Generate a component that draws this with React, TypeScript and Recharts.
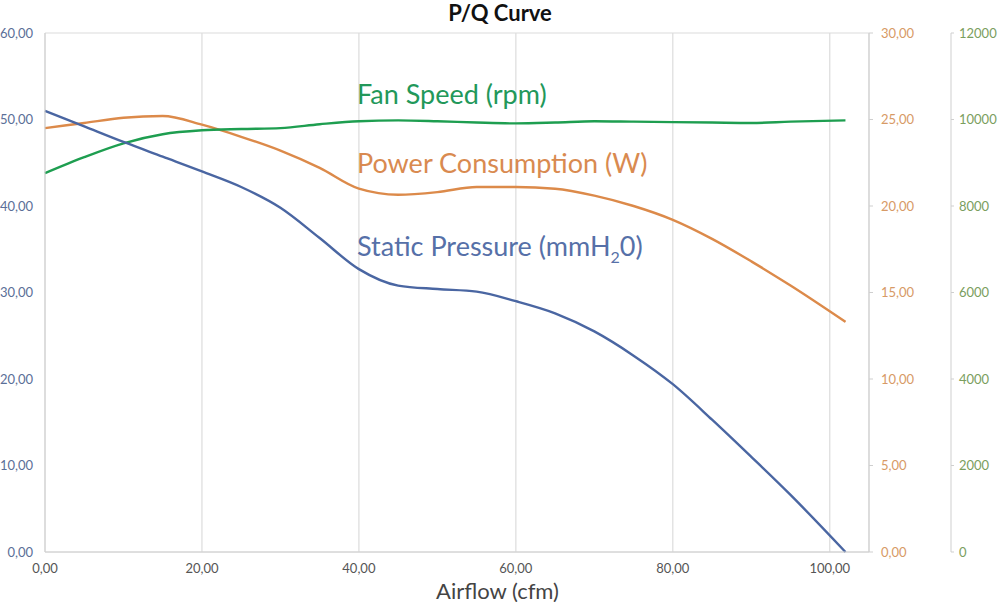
import {
  ComposedChart,
  Line,
  XAxis,
  YAxis,
  CartesianGrid,
} from 'recharts';

// airflow (cfm) sample points
const airflow = [0, 5, 10, 15, 20, 25, 30, 35, 40, 45, 50, 55, 60, 65, 70, 75, 80, 85, 90, 95, 102];
// static pressure (mmH2O), left axis
const pressure = [51.0, 49.2, 47.4, 45.7, 44.0, 42.2, 39.8, 36.3, 32.7, 30.8, 30.4, 30.1, 29.0, 27.6, 25.5, 22.7, 19.4, 15.3, 11.0, 6.6, 0];
// power consumption (W), first right axis
const power = [24.5, 24.8, 25.1, 25.2, 24.7, 24.0, 23.2, 22.2, 21.0, 20.65, 20.8, 21.1, 21.1, 21.0, 20.6, 20.0, 19.2, 18.1, 16.8, 15.4, 13.3];
// fan speed (rpm), second right axis
const fanSpeed = [8760, 9130, 9450, 9660, 9750, 9780, 9800, 9890, 9960, 9980, 9960, 9930, 9910, 9930, 9960, 9950, 9940, 9930, 9920, 9950, 9980];

const xTicks = [0, 20, 40, 60, 80, 100];
const pressureTicks = [0, 10, 20, 30, 40, 50, 60];
const powerTicks = [0, 5, 10, 15, 20, 25, 30];
const speedTicks = [0, 2000, 4000, 6000, 8000, 10000, 12000];

const data = airflow.map((x, i) => ({
  airflow: x,
  pressure: pressure[i],
  power: power[i],
  fanSpeed: fanSpeed[i],
}));

const comma = (v: number) => v.toFixed(2).replace('.', ',');

const BLUE = '#4a66a2';
const ORANGE = '#dc8a4a';
const GREEN = '#1e9e50';
const FONT = 'Lato, "Open Sans", sans-serif';

export default function App() {
  return (
    <div style={{ position: 'absolute', left: 0, top: 0, width: 1000, height: 602, fontFamily: FONT, background: '#fff' }}>
      <div style={{ position: 'absolute', top: 0, width: 1000, textAlign: 'center', fontSize: 22, fontWeight: 700, color: '#111', lineHeight: '26px' }}>
        P/Q Curve
      </div>
      <ComposedChart
        width={1000}
        height={602}
        data={data}
        margin={{ top: 33, right: 1, bottom: 20, left: 0 }}
      >
        <CartesianGrid stroke="#dcdcdc" strokeWidth={1.2} />
        <XAxis
          dataKey="airflow"
          type="number"
          domain={[0, 105]}
          ticks={xTicks}
          tickFormatter={comma}
          height={30}
          axisLine={{ stroke: '#d0d0d0' }}
          tickLine={false}
          tick={{ fill: '#555', fontSize: 13, fontFamily: FONT }}
          tickMargin={6}
        />
        <YAxis
          yAxisId="left"
          domain={[0, 60]}
          ticks={pressureTicks}
          tickFormatter={comma}
          width={45}
          axisLine={{ stroke: '#d0d0d0' }}
          tickLine={false}
          tick={{ fill: '#5b6f98', fontSize: 13, fontFamily: FONT }}
          tickMargin={6}
        />
        <YAxis
          yAxisId="right1"
          orientation="right"
          domain={[0, 30]}
          ticks={powerTicks}
          tickFormatter={comma}
          width={82}
          axisLine={{ stroke: '#cfcfcf' }}
          tickLine={{ stroke: '#cfcfcf' }}
          tickSize={4}
          tick={{ fill: '#d79a66', fontSize: 13, fontFamily: FONT }}
          tickMargin={8}
        />
        <YAxis
          yAxisId="right2"
          orientation="right"
          domain={[0, 12000]}
          ticks={speedTicks}
          width={48}
          axisLine={{ stroke: '#cfcfcf' }}
          tickLine={{ stroke: '#cfcfcf' }}
          tickSize={3}
          tick={{ fill: '#7a9e5e', fontSize: 13, fontFamily: FONT }}
          tickMargin={5}
        />
        <Line yAxisId="right1" type="monotone" dataKey="power" stroke={ORANGE} strokeWidth={2.4} dot={false} isAnimationActive={false} />
        <Line yAxisId="right2" type="monotone" dataKey="fanSpeed" stroke={GREEN} strokeWidth={2.4} dot={false} isAnimationActive={false} />
        <Line yAxisId="left" type="monotone" dataKey="pressure" stroke={BLUE} strokeWidth={2.4} dot={false} isAnimationActive={false} />
      </ComposedChart>
      <div style={{ position: 'absolute', left: 357, top: 78, fontSize: 27, color: '#22985a', lineHeight: '32px' }}>
        Fan Speed (rpm)
      </div>
      <div style={{ position: 'absolute', left: 357, top: 147, fontSize: 27, color: '#d98a50', lineHeight: '32px' }}>
        Power Consumption (W)
      </div>
      <div style={{ position: 'absolute', left: 357, top: 230, fontSize: 27, color: '#5670a8', lineHeight: '32px' }}>
        Static Pressure (mmH<sub style={{ fontSize: 16, verticalAlign: -7 }}>2</sub>0)
      </div>
      <div style={{ position: 'absolute', top: 578, width: 995, textAlign: 'center', fontSize: 22, color: '#444', lineHeight: '26px' }}>
        Airflow (cfm)
      </div>
    </div>
  );
}
